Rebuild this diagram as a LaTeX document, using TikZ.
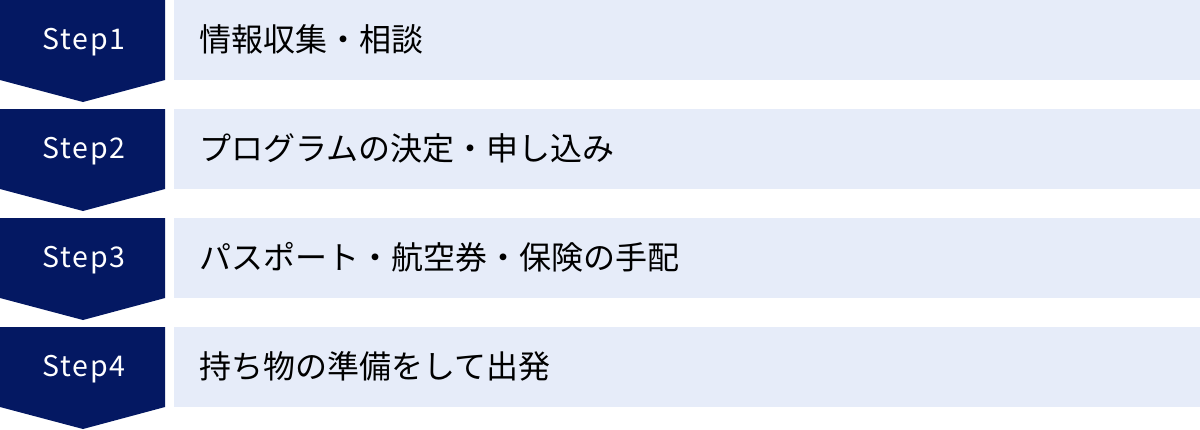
\documentclass[tikz,border=0pt]{standalone}
\usepackage{fontspec}
\newfontfamily\jpfont{Noto Sans CJK JP}
\newfontfamily\stepfont[LetterSpace=6]{Noto Sans CJK JP}
\definecolor{navy}{HTML}{041862}
\definecolor{pale}{HTML}{E6ECF9}
\begin{document}
\begin{tikzpicture}[x=1pt,y=-1pt,
  chevron/.style={fill=navy,draw=none},
  band/.style={fill=pale,draw=none},
  steplabel/.style={text=white,font=\stepfont\fontsize{28.5}{32}\selectfont,inner sep=0pt,anchor=base},
  tasklabel/.style={text=black,font=\jpfont\fontsize{32}{38}\selectfont,inner sep=0pt,anchor=base west}]
\useasboundingbox (0,0) rectangle (1200,429);
\foreach \i/\t in {1/情報収集・相談,2/プログラムの決定・申し込み,3/パスポート・航空券・保険の手配,4/持ち物の準備をして出発}{
  \pgfmathsetmacro{\yy}{(\i-1)*109}
  \fill[chevron] (0,\yy) -- (165,\yy) -- (165,\yy+80) -- (83,\yy+102) -- (0,\yy+80) -- cycle;
  \fill[band] (174,\yy) rectangle (1200,\yy+80);
  \node[steplabel] (s\i) at (84,\yy+49.5) {Step\i};
  \node[tasklabel] (t\i) at (199,\yy+51) {\t};
}
\end{tikzpicture}
\end{document}
